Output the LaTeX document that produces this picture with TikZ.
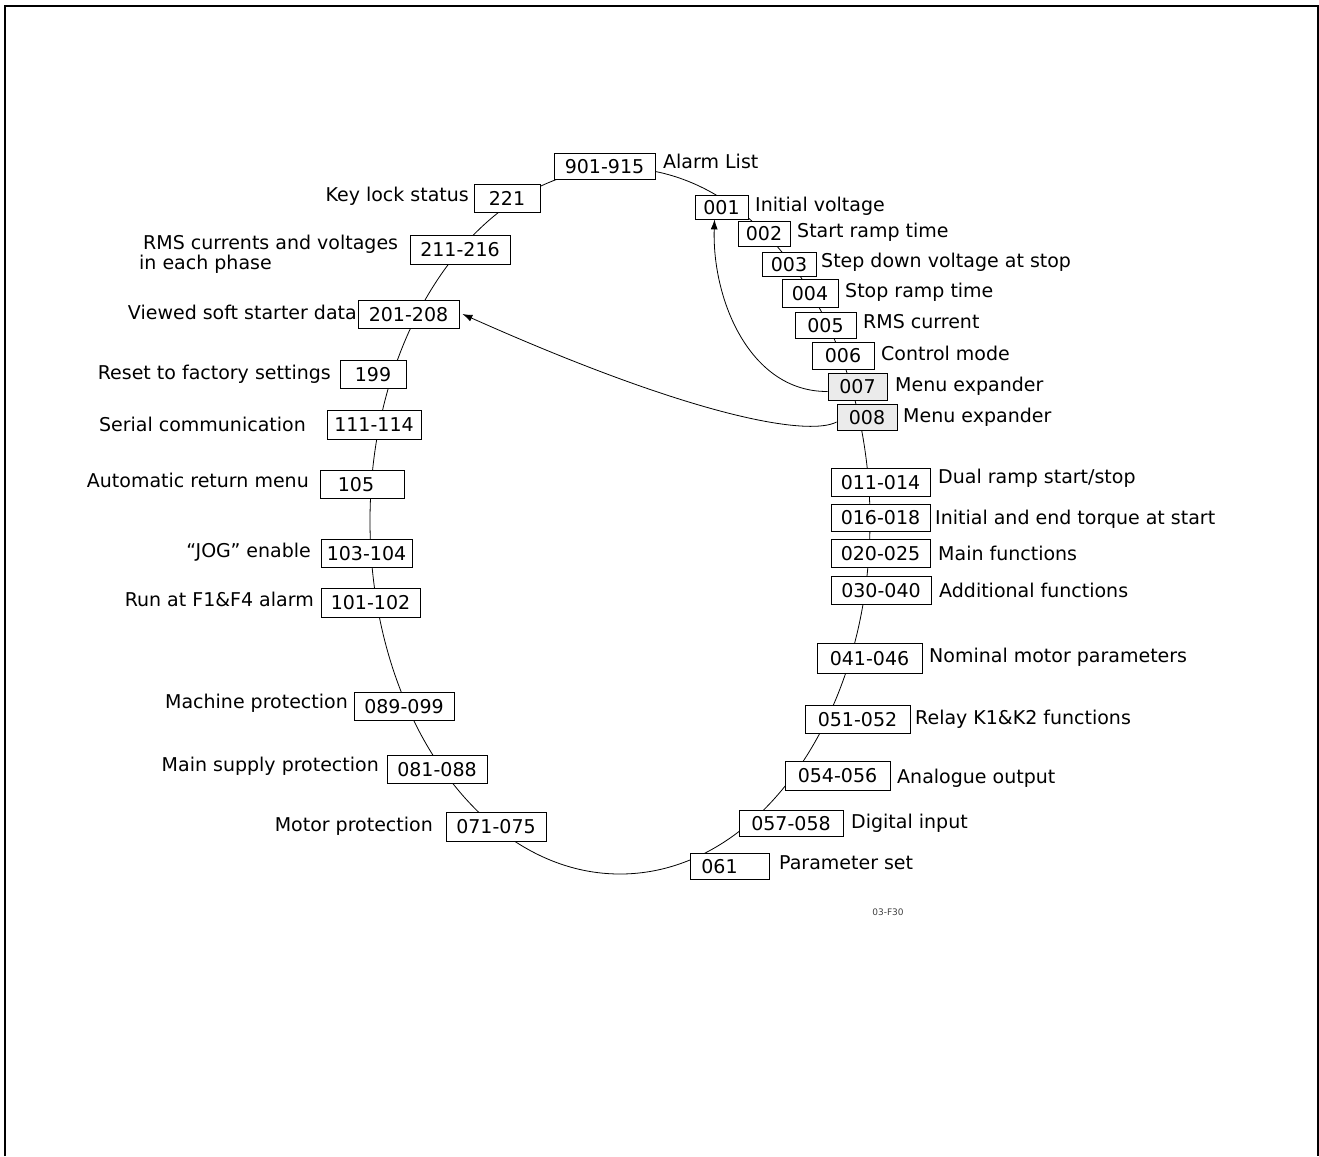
\documentclass[tikz,border=0pt]{standalone}
\usepackage{fontspec}
\setmainfont{DejaVu Sans}
\usetikzlibrary{arrows.meta,shapes.geometric}
\newcommand\pbx[7][pbox]{%
  \pgfmathsetmacro\pbxcx{(#3+#5)/2}\pgfmathsetmacro\pbxcy{(#4+#6)/2}%
  \pgfmathsetmacro\pbxw{#5-#3}\pgfmathsetmacro\pbxh{#6-#4}%
  \node[#1, minimum width=\pbxw pt, minimum height=\pbxh pt] (#2) at (\pbxcx,\pbxcy) {#7};}
\begin{document}
\begin{tikzpicture}[x=1pt,y=-1pt,
  every node/.style={font=\fontsize{19}{19}\selectfont},
  pbox/.style={draw=black, line width=0.8pt, fill=white, inner sep=0pt, text depth=0pt},
  gbox/.style={pbox, fill=black!8},
  lbl/.style={inner sep=0pt},
  ringline/.style={line width=0.8pt},
  arr/.style={line width=0.8pt, -{Latex[length=10pt,width=7pt]}},
  frame/.style={line width=2pt}]
\useasboundingbox (0,0) rectangle (1319,1156);
% frame
\draw[frame] (5,1156) -- (5,6) -- (1318,6) -- (1318,1156);
% ring connecting all menu boxes
\node[draw, ellipse, ringline, minimum width=500pt, minimum height=706pt, inner sep=0pt] (ring) at (620,521) {};
% boxes, left half
\pbx{n901}{554}{153}{655}{179}{901-915}
\pbx{n221}{474}{184}{540}{212}{221}
\pbx{n211}{410}{235}{510}{264}{211-216}
\pbx{n201}{358}{300}{459}{328}{201-208}
\pbx{n199}{340}{360}{406}{388}{199}
\pbx{n111}{327}{410}{421}{439}{111-114}
\pbx{n105}{320}{470}{404}{498}{\hspace*{-12pt}105}
\pbx{n103}{321}{539}{412}{567}{103-104}
\pbx{n101}{321}{588}{420}{617}{101-102}
\pbx{n089}{354}{692}{454}{720}{089-099}
\pbx{n081}{387}{755}{487}{783}{081-088}
\pbx{n071}{446}{812}{546}{841}{071-075}
\pbx{n061}{690}{853}{769}{879}{\hspace*{-20pt}061}
% boxes, right half
\pbx{n057}{739}{810}{843}{836}{057-058}
\pbx{n054}{785}{761}{890}{790}{054-056}
\pbx{n051}{805}{705}{910}{733}{051-052}
\pbx{n041}{817}{643}{922}{673}{041-046}
\pbx{n030}{831}{576}{931}{604}{030-040}
\pbx{n020}{831}{539}{930}{567}{020-025}
\pbx{n016}{831}{504}{930}{531}{016-018}
\pbx{n011}{831}{468}{930}{496}{011-014}
\pbx[gbox]{n008}{837}{404}{897}{430}{008}
\pbx[gbox]{n007}{828}{373}{887}{400}{007}
\pbx{n006}{812}{342}{874}{369}{006}
\pbx{n005}{795}{312}{856}{338}{005}
\pbx{n004}{782}{279}{838}{307}{004}
\pbx{n003}{762}{252}{816}{276}{003}
\pbx{n002}{738}{221}{790}{246}{002}
\pbx{n001}{695}{195}{748}{219}{001}
% labels, left
\node[lbl, anchor=base east] (l221) at (469,201) {Key lock status};
\node[lbl, anchor=north west, align=left, font=\fontsize{19}{18}\selectfont] (l211) at (139,235) {\hspace*{4pt}RMS currents and voltages\\in each phase};
\node[lbl, anchor=base east] (l201) at (357,319) {Viewed soft starter data};
\node[lbl, anchor=base east] (l199) at (331,379) {Reset to factory settings};
\node[lbl, anchor=base east] (l111) at (306,431) {Serial communication};
\node[lbl, anchor=base east] (l105) at (309,487) {Automatic return menu};
\node[lbl, anchor=base east] (l103) at (311,557) {“JOG” enable};
\node[lbl, anchor=base east] (l101) at (314,606) {Run at F1\&F4 alarm};
\node[lbl, anchor=base east] (l089) at (348,708) {Machine protection};
\node[lbl, anchor=base east] (l081) at (379,771) {Main supply protection};
\node[lbl, anchor=base east] (l071) at (433,831) {Motor protection};
% labels, right
\node[lbl, anchor=base west] (l901) at (663,168) {Alarm List};
\node[lbl, anchor=base west] (l001) at (755,211) {Initial voltage};
\node[lbl, anchor=base west] (l002) at (797,237) {Start ramp time};
\node[lbl, anchor=base west] (l003) at (821,267) {Step down voltage at stop};
\node[lbl, anchor=base west] (l004) at (845,297) {Stop ramp time};
\node[lbl, anchor=base west] (l005) at (863,328) {RMS current};
\node[lbl, anchor=base west] (l006) at (881,360) {Control mode};
\node[lbl, anchor=base west] (l007) at (895,391) {Menu expander};
\node[lbl, anchor=base west] (l008) at (903,422) {Menu expander};
\node[lbl, anchor=base west] (l011) at (938,483) {Dual ramp start/stop};
\node[lbl, anchor=base west] (l016) at (935,524) {Initial and end torque at start};
\node[lbl, anchor=base west] (l020) at (938,560) {Main functions};
\node[lbl, anchor=base west] (l030) at (939,597) {Additional functions};
\node[lbl, anchor=base west] (l041) at (929,662) {Nominal motor parameters};
\node[lbl, anchor=base west] (l051) at (915,724) {Relay K1\&K2 functions};
\node[lbl, anchor=base west] (l054) at (897,783) {Analogue output};
\node[lbl, anchor=base west] (l057) at (851,828) {Digital input};
\node[lbl, anchor=base west] (l061) at (779,869) {Parameter set};
% figure code
\node[font=\fontsize{9}{9}\selectfont, text=black!75, inner sep=0pt] (figcode) at (888,912) {03-F30};
% menu expander arrows
\draw[arr] ([yshift=-5pt]n007.west) .. controls (750,392) and (712,300) .. ([xshift=-7pt]n001.south);
\draw[arr] ([yshift=-5pt]n008.west) .. controls (810,436) and (700,420) .. ([xshift=3pt]n201.east);
\end{tikzpicture}
\end{document}
